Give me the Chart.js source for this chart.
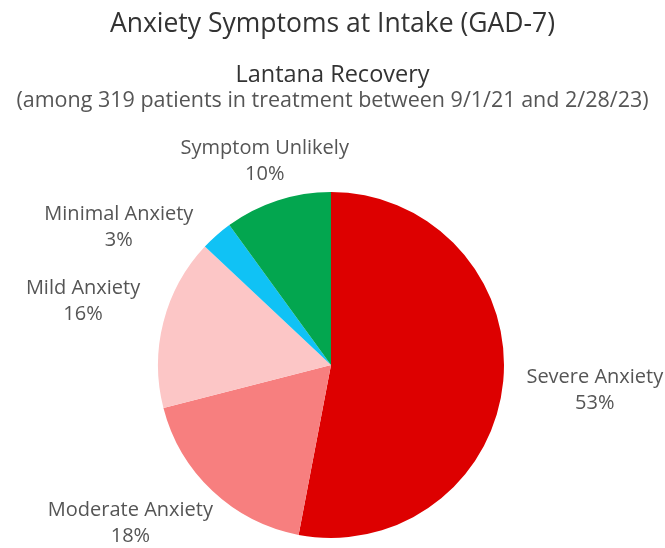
<!DOCTYPE html>
<html>
<head>
<meta charset="utf-8">
<script src="https://cdn.jsdelivr.net/npm/chart.js@4.4.1/dist/chart.umd.min.js"></script>
<style>
  html, body { margin: 0; padding: 0; background: #fff; }
  #wrap { width: 665px; height: 548px; position: relative; }
</style>
</head>
<body>
<div id="wrap"><canvas id="chartGad"></canvas></div>
<script>
// ===============================
// DATA
// ===============================
const categories = ["Severe Anxiety", "Moderate Anxiety", "Mild Anxiety", "Minimal Anxiety", "Symptom Unlikely"];
const shares     = [53, 18, 16, 3, 10];
const sliceColors = ["#dd0000", "#f77f7f", "#fcc6c6", "#10c2f5", "#03a64f"];

const titleText    = "Anxiety Symptoms at Intake (GAD-7)";
const subtitleText = "Lantana Recovery";
const noteText     = "(among 319 patients in treatment between 9/1/21 and 2/28/23)";

const FONT = "'Open Sans', 'Noto Sans', sans-serif";

// ===============================
// HELPERS
// ===============================
// distance from pie centre to the nearest point of a box centred at (cx, cy)
function nearDist(cx, cy, w, h) {
  const nx = Math.max(cx - w / 2, Math.min(0, cx + w / 2));
  const ny = Math.max(cy - h / 2, Math.min(0, cy + h / 2));
  return Math.hypot(nx, ny);
}

// ===============================
// TITLES + SLICE LABELS
// ===============================
const textPlugin = {
  id: "gadText",
  afterDraw(chart) {
    const ctx = chart.ctx;
    const W = chart.width, H = chart.height;
    ctx.save();
    ctx.textAlign = "center";
    ctx.textBaseline = "alphabetic";

    ctx.fillStyle = "#333";
    ctx.font = "26.5px " + FONT;
    ctx.fillText(titleText, W / 2, 32);

    ctx.fillStyle = "#333";
    ctx.font = "23.5px " + FONT;
    ctx.fillText(subtitleText, W / 2, 82);

    ctx.fillStyle = "#555";
    ctx.font = "21.5px " + FONT;
    ctx.fillText(noteText, W / 2, 107);

    // labels around the pie
    const meta = chart.getDatasetMeta(0);
    const lh = 26, padX = 16, padY = 2, gap = 6, spacing = 16;
    ctx.font = "20px " + FONT;
    const boxes = meta.data.map((arc, i) => {
      const mid = (arc.startAngle + arc.endAngle) / 2;
      const dx = Math.cos(mid), dy = Math.sin(mid);
      const lines = [categories[i], shares[i] + "%"];
      const tw = Math.max(...lines.map(t => ctx.measureText(t).width));
      const th = lh * 2 - 6;
      const target = arc.outerRadius + gap;
      let d = 0;
      while (d < 600 && nearDist(d * dx, d * dy, tw + 2 * padX, th + 2 * padY) < target) d += 0.5;
      let cx = d * dx, cy = d * dy;
      cy = Math.min(Math.max(cy, th / 2 + padY - arc.y), H - arc.y - th / 2 - padY);
      return { lines, tw, th, cx, cy, ox: arc.x, oy: arc.y, target, left: cx < 0 };
    });

    // stack labels on the same side, then slide sideways clear of the pie
    [true, false].forEach(side => {
      const list = boxes.filter(b => b.left === side).sort((a, b) => a.cy - b.cy);
      for (let i = 1; i < list.length; i++) {
        const p = list[i - 1], c = list[i];
        const xOverlap = Math.abs(p.cx - c.cx) < (p.tw + c.tw) / 2 + 2 * padX;
        const minY = p.cy + (p.th + c.th) / 2 + 2 * padY + spacing;
        if (xOverlap && c.cy < minY) c.cy = minY;
      }
    });
    boxes.forEach(b => {
      const step = b.left ? -0.5 : 0.5;
      let n = 0;
      while (n < 600 && nearDist(b.cx, b.cy, b.tw, b.th) < b.target) { b.cx += step; n++; }
    });

    ctx.fillStyle = "#555";
    ctx.textBaseline = "middle";
    boxes.forEach(b => {
      const x = b.ox + b.cx, y = b.oy + b.cy;
      ctx.fillText(b.lines[0], x, y - lh / 2);
      ctx.fillText(b.lines[1], x, y + lh / 2);
    });
    ctx.restore();
  }
};

// ===============================
// CHART
// ===============================
new Chart(document.getElementById("chartGad"), {
  type: "pie",
  data: {
    labels: categories,
    datasets: [{
      data: shares,
      backgroundColor: sliceColors,
      borderWidth: 0
    }]
  },
  options: {
    responsive: true,
    maintainAspectRatio: false,
    animation: false,
    layout: { padding: { top: 192, left: 158, right: 161, bottom: 10 } },
    plugins: {
      legend: { display: false },
      tooltip: { enabled: false }
    }
  },
  plugins: [textPlugin]
});
</script>
</body>
</html>
